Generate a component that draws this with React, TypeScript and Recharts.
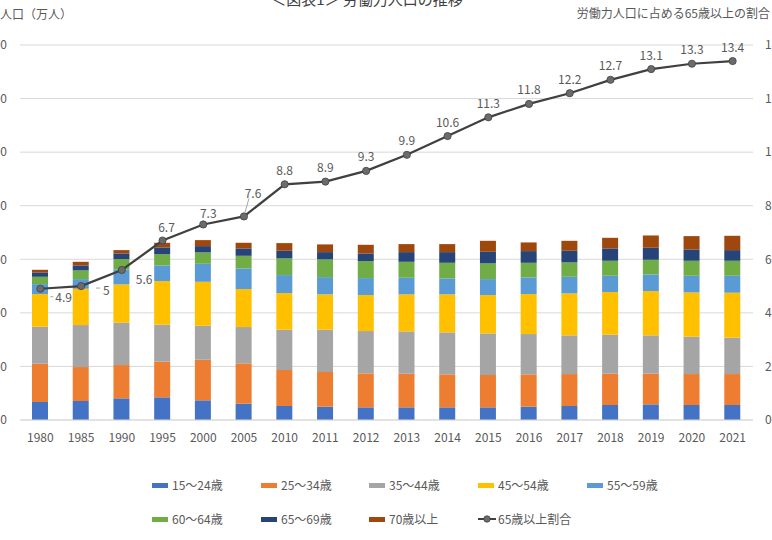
import React from 'react';
import { ComposedChart, Bar, Line, XAxis, YAxis, CartesianGrid, Legend, LabelList } from 'recharts';

const years = ['1980','1985','1990','1995','2000','2005','2010','2011','2012','2013','2014','2015','2016','2017','2018','2019','2020','2021'];
const a15_24 = [672,709,809,847,735,608,522,497,473,473,473,473,497,522,560,584,560,560];
const a25_34 = [1428,1268,1243,1329,1515,1507,1344,1294,1268,1255,1231,1206,1207,1194,1169,1145,1156,1156];
const a35_44 = [1381,1568,1579,1380,1268,1355,1504,1579,1580,1581,1568,1555,1505,1444,1455,1431,1394,1356];
const a45_54 = [1220,1354,1432,1630,1642,1418,1368,1320,1343,1381,1418,1430,1492,1566,1592,1653,1653,1679];
const a55_59 = [373,362,559,586,672,772,672,645,634,620,596,597,622,621,609,622,622,634];
const a60_64 = [273,324,385,421,425,470,623,661,634,596,583,586,546,537,559,546,559,559];
const a65_69 = [163,187,212,250,235,276,284,272,287,362,399,433,437,433,462,449,424,399];
const a70 = [98,134,124,173,224,210,287,287,322,299,299,410,323,373,396,459,497,534];
const ratio = [4.9,5,5.6,6.7,7.3,7.6,8.8,8.9,9.3,9.9,10.6,11.3,11.8,12.2,12.7,13.1,13.3,13.4];

const leftTicks = [0,2000,4000,6000,8000,10000,12000,14000];
const rightTicks = [0,2,4,6,8,10,12,14];

const barSeries = [
  { key: 'a15_24', name: '15～24歳', color: '#4472C4', values: a15_24 },
  { key: 'a25_34', name: '25～34歳', color: '#ED7D31', values: a25_34 },
  { key: 'a35_44', name: '35～44歳', color: '#A5A5A5', values: a35_44 },
  { key: 'a45_54', name: '45～54歳', color: '#FFC000', values: a45_54 },
  { key: 'a55_59', name: '55～59歳', color: '#5B9BD5', values: a55_59 },
  { key: 'a60_64', name: '60～64歳', color: '#70AD47', values: a60_64 },
  { key: 'a65_69', name: '65～69歳', color: '#264478', values: a65_69 },
  { key: 'a70', name: '70歳以上', color: '#9E480E', values: a70 },
];
const lineName = '65歳以上割合';

const data = years.map((y, i) => {
  const row: any = { year: y, ratio: ratio[i] };
  barSeries.forEach(s => { row[s.key] = s.values[i]; });
  return row;
});

const FONT = "'Noto Sans CJK JP', 'Noto Sans', sans-serif";
const TXT = '#595959';

// label offsets relative to the point (special cases where the label is moved)
const labelOffsets: Record<number, { dx: number; dy: number; anchor: string; leader?: [number, number, number, number] }> = {
  0: { dx: 15, dy: 8, anchor: 'start', leader: [10, 8, 13, 8] },
  1: { dx: 22, dy: 3, anchor: 'start', leader: [15, 2, 19, 2] },
  2: { dx: 14, dy: 8, anchor: 'start' },
  3: { dx: 4, dy: -14, anchor: 'middle' },
  4: { dx: 5, dy: -12, anchor: 'middle' },
  5: { dx: 9, dy: -24, anchor: 'middle', leader: [1, -4, 5, -18] },
};

const renderLineLabel = (props: any) => {
  const { x, y, value, index } = props;
  const o = labelOffsets[index] || { dx: 0, dy: -15, anchor: 'middle' };
  return (
    <g>
      {o.leader && (
        <line x1={x + o.leader[0]} y1={y + o.leader[1]} x2={x + o.leader[2]} y2={y + o.leader[3]} stroke="#A6A6A6" strokeWidth={1} />
      )}
      <text x={x + o.dx} y={y + o.dy} textAnchor={o.anchor as any} dominantBaseline="central" fill={TXT} fontSize={12} fontFamily={FONT}>
        {value}
      </text>
    </g>
  );
};

const renderDot = (props: any) => {
  const { cx, cy, index } = props;
  return <circle key={`d${index}`} cx={cx} cy={cy} r={3.6} fill="#6b6b6b" stroke="#404040" strokeWidth={0.8} />;
};

const renderLegend = () => {
  const items = [
    ...barSeries.map(s => ({ name: s.name, color: s.color, line: false })),
    { name: lineName, color: '#404040', line: true },
  ];
  const colX = [152, 261, 369, 478, 587];
  const rowY = [35, 69];
  return (
    <div style={{ position: 'relative', width: 772, height: 90, fontFamily: FONT }}>
      {items.map((it, i) => {
        const col = i % 5;
        const row = Math.floor(i / 5);
        const left = colX[col];
        const top = rowY[row];
        return (
          <div key={it.name} style={{ position: 'absolute', left, top: top - 8, height: 16, display: 'flex', alignItems: 'center', whiteSpace: 'nowrap' }}>
            {it.line ? (
              <svg width={18} height={10} style={{ marginRight: 2 }}>
                <line x1={0} y1={5} x2={18} y2={5} stroke="#404040" strokeWidth={2} />
                <circle cx={9} cy={5} r={3.2} fill="#6b6b6b" stroke="#404040" strokeWidth={0.8} />
              </svg>
            ) : (
              <span style={{ display: 'inline-block', width: 16, height: 5, background: it.color, marginRight: 4 }} />
            )}
            <span style={{ fontSize: 12, color: TXT, lineHeight: '16px' }}>{it.name}</span>
          </div>
        );
      })}
    </div>
  );
};

export default function App() {
  return (
    <div style={{ position: 'absolute', left: 0, top: 0, width: 772, height: 540, fontFamily: FONT, background: '#fff', overflow: 'hidden' }}>
      <div style={{ position: 'absolute', left: 0, top: -9, width: 734, textAlign: 'center', fontSize: 15, lineHeight: '15px', color: '#404040', whiteSpace: 'nowrap' }}>
        ＜図表1＞ 労働力人口の推移
      </div>
      <div style={{ position: 'absolute', left: -36, top: 8, fontSize: 12, lineHeight: '12px', color: TXT, whiteSpace: 'nowrap' }}>
        労働力人口（万人）
      </div>
      <div style={{ position: 'absolute', right: 2, top: 7, fontSize: 12, lineHeight: '12px', color: TXT, whiteSpace: 'nowrap' }}>
        労働力人口に占める65歳以上の割合
      </div>
      <ComposedChart width={772} height={540} data={data} margin={{ top: 45, right: 0, bottom: 0, left: 0 }} style={{ overflow: 'hidden' }}>
        <CartesianGrid yAxisId="left" vertical={false} stroke="#D9D9D9" strokeWidth={1} />
        <XAxis dataKey="year" height={30} axisLine={{ stroke: '#D9D9D9' }} tickLine={false} tickSize={0} tickMargin={13}
          tick={{ fill: TXT, fontSize: 12, fontFamily: FONT }} interval={0} />
        <YAxis yAxisId="left" width={20} domain={[0, 14000]} ticks={leftTicks} axisLine={false} tickLine={false} tickSize={0} tickMargin={13}
          tick={{ fill: TXT, fontSize: 12, fontFamily: FONT }} />
        <YAxis yAxisId="right" orientation="right" width={19} domain={[0, 14]} ticks={rightTicks} axisLine={false} tickLine={false} tickSize={0} tickMargin={12}
          tick={{ fill: TXT, fontSize: 12, fontFamily: FONT, textAnchor: 'start' }} />
        {barSeries.map(s => (
          <Bar key={s.key} yAxisId="left" dataKey={s.key} name={s.name} stackId="a" fill={s.color} barSize={16} isAnimationActive={false} />
        ))}
        <Line yAxisId="right" dataKey="ratio" name={lineName} stroke="#404040" strokeWidth={2.25} dot={renderDot} activeDot={false} isAnimationActive={false}>
          <LabelList dataKey="ratio" content={renderLineLabel} />
        </Line>
        <Legend verticalAlign="bottom" align="left" content={renderLegend} wrapperStyle={{ height: 90 }} />
      </ComposedChart>
    </div>
  );
}
